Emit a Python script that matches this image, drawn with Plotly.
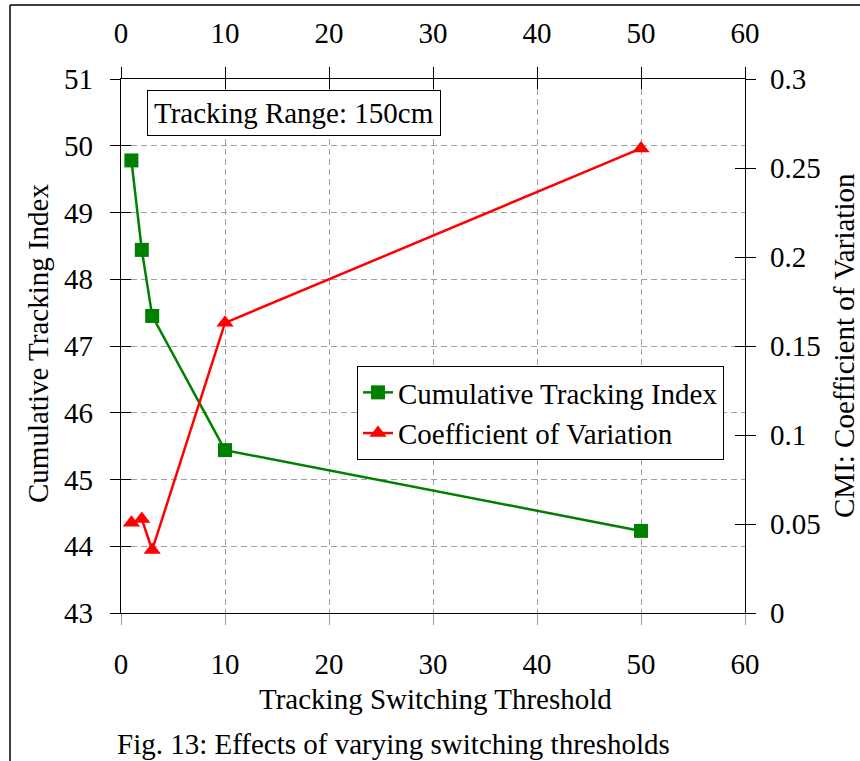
import plotly.graph_objects as go

# ---- data ----
thresholds = [1, 2, 3, 10, 50]
cti_values = [49.78, 48.44, 47.45, 45.44, 44.23]
cv_values = [0.0507, 0.0528, 0.0354, 0.163, 0.261]
x_ticks = [0, 10, 20, 30, 40, 50, 60]
left_ticks = [43, 44, 45, 46, 47, 48, 49, 50, 51]
right_ticks = [0, 0.05, 0.1, 0.15, 0.2, 0.25, 0.3]
right_tick_text = ["0", "0.05", "0.1", "0.15", "0.2", "0.25", "0.3"]

W, H = 860, 761
L, R, T, B = 121, 115, 79, 148
PW, PH = W - L - R, H - T - B
FONT = "Liberation Serif"
FS = 29

def px_x(px):
    return (px - L) / PW

def px_y(py):
    return (H - B - py) / PH

fig = go.Figure()
fig.add_trace(go.Scatter(
    x=thresholds, y=cti_values, name="Cumulative Tracking Index",
    mode="lines+markers", line=dict(color="#008000", width=2.5),
    marker=dict(symbol="square", size=14, color="#008000"),
    xaxis="x", yaxis="y"))
fig.add_trace(go.Scatter(
    x=thresholds, y=cv_values, name="Coefficient of Variation",
    mode="lines+markers", line=dict(color="#ff0000", width=2.5),
    marker=dict(symbol="triangle-up", size=15, color="#ff0000"),
    xaxis="x2", yaxis="y2"))
# empty helper traces so the tick-only overlay axes get drawn
fig.add_trace(go.Scatter(x=[], y=[], xaxis="x3", yaxis="y3", showlegend=False,
                         hoverinfo="skip"))
fig.add_trace(go.Scatter(x=[], y=[], xaxis="x3", yaxis="y4", showlegend=False,
                         hoverinfo="skip"))

tickfont = dict(family=FONT, size=FS, color="black")
common_x = dict(range=[0, 60], tickvals=x_ticks, zeroline=False)
common_yl = dict(range=[43, 51], tickvals=left_ticks, zeroline=False)
common_yr = dict(range=[0, 0.3], tickvals=right_ticks, zeroline=False)

fig.update_layout(
    width=W, height=H,
    margin=dict(l=L, r=R, t=T, b=B, pad=0),
    paper_bgcolor="white", plot_bgcolor="white",
    font=dict(family=FONT, size=FS, color="black"),
    showlegend=True,
    xaxis=dict(**common_x, side="bottom", showline=True, linecolor="black", linewidth=1.2,
               mirror=False, ticks="outside", ticklen=11, tickcolor="#999999", tickwidth=1.2,
               showgrid=True, gridcolor="#a0a0a0", griddash="6px,4px", gridwidth=1.2,
               tickfont=tickfont, ticklabelstandoff=14),
    xaxis2=dict(**common_x, overlaying="x", side="top", anchor="y2", showline=True,
                linecolor="black", linewidth=1.2, ticks="outside", ticklen=11,
                tickcolor="black", tickwidth=1.2, showgrid=False, tickfont=tickfont,
                ticklabelstandoff=12),
    xaxis3=dict(**common_x, overlaying="x", side="top", anchor="y", showline=False,
                ticks="inside", ticklen=10, tickcolor="black", tickwidth=1.2,
                showgrid=False, showticklabels=False),
    yaxis=dict(**common_yl, side="left", showline=True, linecolor="black", linewidth=1.2,
               ticks="outside", ticklen=10, tickcolor="black", tickwidth=1.2,
               showgrid=True, gridcolor="#a0a0a0", griddash="6px,4px", gridwidth=1.2,
               tickfont=tickfont, ticklabelstandoff=11),
    yaxis2=dict(**common_yr, overlaying="y", side="right", anchor="x2", showline=True,
                linecolor="black", linewidth=1.2, ticks="outside", ticklen=10,
                tickcolor="black", tickwidth=1.2, showgrid=False,
                ticktext=right_tick_text, tickfont=tickfont, ticklabelstandoff=8),
    yaxis3=dict(**common_yl, overlaying="y", side="left", anchor="x3", showline=False,
                ticks="inside", ticklen=10, tickcolor="black", tickwidth=1.2,
                showgrid=False, showticklabels=False),
    yaxis4=dict(**common_yr, overlaying="y", side="right", anchor="x3", showline=False,
                ticks="inside", ticklen=10, tickcolor="black", tickwidth=1.2,
                showgrid=False, showticklabels=False),
    legend=dict(x=px_x(357), y=px_y(366), xanchor="left", yanchor="top",
                bgcolor="white", bordercolor="black", borderwidth=1,
                font=dict(family=FONT, size=FS, color="black"),
                tracegroupgap=0, itemwidth=30),
)

annotations = [
    dict(text="Tracking Range: 150cm", xref="paper", yref="paper",
         x=px_x(294), y=px_y(113), xanchor="center", yanchor="middle",
         showarrow=False, bordercolor="black", borderwidth=1, borderpad=6,
         bgcolor="white", font=dict(family=FONT, size=FS, color="black")),
    dict(text="Tracking Switching Threshold", xref="paper", yref="paper",
         x=px_x(435), y=px_y(699), xanchor="center", yanchor="middle",
         showarrow=False, font=dict(family=FONT, size=FS, color="black")),
    dict(text="Fig. 13: Effects of varying switching thresholds", xref="paper", yref="paper",
         x=px_x(393), y=px_y(744), xanchor="center", yanchor="middle",
         showarrow=False, font=dict(family=FONT, size=FS, color="black")),
    dict(text="Cumulative Tracking Index", xref="paper", yref="paper",
         x=px_x(38), y=px_y(344), xanchor="center", yanchor="middle", textangle=-90,
         showarrow=False, font=dict(family=FONT, size=FS, color="black")),
    dict(text="CMI: Coefficient of Variation", xref="paper", yref="paper",
         x=px_x(844), y=px_y(346), xanchor="center", yanchor="middle", textangle=-90,
         showarrow=False, font=dict(family=FONT, size=FS, color="black")),
]
fig.update_layout(annotations=annotations)

# page frame lines of the cropped figure
fig.add_shape(type="line", xref="paper", yref="paper",
              x0=px_x(10), x1=px_x(860), y0=px_y(5), y1=px_y(5),
              line=dict(color="black", width=1.5))
fig.add_shape(type="line", xref="paper", yref="paper",
              x0=px_x(10), x1=px_x(10), y0=px_y(5), y1=px_y(761),
              line=dict(color="black", width=1.5))

fig.write_html("out.html")
